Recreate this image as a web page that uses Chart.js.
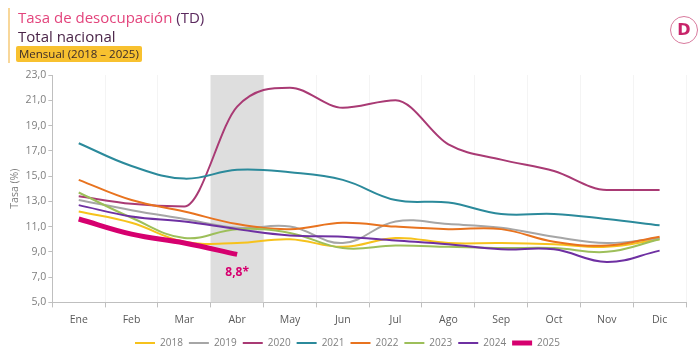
<!DOCTYPE html>
<html>
<head>
<meta charset="utf-8">
<script src="https://cdn.jsdelivr.net/npm/chart.js@4"></script>
<style>
  html, body { margin: 0; padding: 0; background: #fff; }
  #wrap { position: relative; width: 700px; height: 350px; font-family: "Open Sans", "Noto Sans", sans-serif; }
  #bar { position: absolute; left: 8px; top: 8px; width: 2px; height: 55px; background: #f8d79a; }
  #t1 { position: absolute; left: 18px; top: 7px; font-size: 15px; color: #e3447c; white-space: nowrap; }
  #t1 span { color: #5b2a5e; }
  #t2 { position: absolute; left: 18px; top: 26px; font-size: 15px; color: #4a2448; white-space: nowrap; }
  #t3 { position: absolute; left: 16px; top: 46px; font-size: 11.5px; color: #3a2a2a; background: #f8c12f; padding: 0 3px; line-height: 16px; border-radius: 2px; white-space: nowrap; }
  #logo { position: absolute; left: 670px; top: 16px; width: 26px; height: 26px; border: 1px solid #d87a9d; border-radius: 50%; text-align: center; line-height: 26px; font-weight: bold; font-size: 16px; color: #c8246a; font-family: "DejaVu Sans", sans-serif; }
  canvas { position: absolute; left: 0; top: 0; }
</style>
</head>
<body>
<div id="wrap">
  <canvas id="tdChart" width="700" height="350"></canvas>
  <div id="bar"></div>
  <div id="t1">Tasa de desocupación <span>(TD)</span></div>
  <div id="t2">Total nacional</div>
  <div id="t3">Mensual (2018 – 2025)</div>
  <div id="logo">D</div>
</div>
<script>
// Datos (TD mensual, %)
const months = ['Ene', 'Feb', 'Mar', 'Abr', 'May', 'Jun', 'Jul', 'Ago', 'Sep', 'Oct', 'Nov', 'Dic'];
const years = ['2018', '2019', '2020', '2021', '2022', '2023', '2024', '2025'];
const td2018 = [12.2, 11.3, 9.8, 9.7, 10.0, 9.4, 10.1, 9.7, 9.7, 9.6, 9.4, 10.0];
const td2019 = [13.1, 12.3, 11.6, 10.9, 11.0, 9.7, 11.4, 11.2, 10.9, 10.2, 9.7, 10.1];
const td2020 = [13.4, 12.8, 12.6, 20.5, 22.0, 20.4, 21.0, 17.5, 16.3, 15.4, 13.9, 13.9];
const td2021 = [17.6, 15.8, 14.8, 15.5, 15.3, 14.7, 13.1, 12.9, 12.0, 12.0, 11.6, 11.1];
const td2022 = [14.7, 13.1, 12.2, 11.2, 10.8, 11.3, 11.0, 10.8, 10.8, 9.8, 9.5, 10.2];
const td2023 = [13.7, 11.7, 10.1, 10.8, 10.5, 9.3, 9.5, 9.4, 9.3, 9.3, 9.0, 10.0];
const td2024 = [12.7, 11.8, 11.4, 10.8, 10.3, 10.2, 9.9, 9.6, 9.2, 9.2, 8.2, 9.1];
const td2025 = [11.6, 10.4, 9.7, 8.8];
const yTicks = [5, 7, 9, 11, 13, 15, 17, 19, 21, 23];
const highlightMonth = 'Abr';
const lastLabel = '8,8*';

const colors = ['#f6c21c', '#a6a6a6', '#a93a74', '#2b8a9b', '#e8731f', '#9dbf5a', '#6e30a2', '#d6006f'];
const series = [td2018, td2019, td2020, td2021, td2022, td2023, td2024, td2025];

const datasets = series.map((d, i) => ({
    label: years[i],
    data: d,
    borderColor: colors[i],
    backgroundColor: colors[i],
    borderWidth: i === 7 ? 5 : 2,
    pointRadius: 0,
    tension: 0.4,
    // 2020 salta en abril: sin sobrepaso antes del salto
    cubicInterpolationMode: i === 2 ? 'monotone' : 'default',
    order: 7 - i
}));

// banda gris del mes actual + etiqueta del ultimo dato
const bandPlugin = {
    id: 'band',
    beforeDatasetsDraw(chart) {
        const { ctx, chartArea, scales } = chart;
        const i = months.indexOf(highlightMonth);
        const w = scales.x.getPixelForValue(1) - scales.x.getPixelForValue(0);
        const cx = scales.x.getPixelForValue(i);
        ctx.save();
        ctx.fillStyle = '#dedede';
        ctx.fillRect(cx - w / 2, chartArea.top, w, chartArea.bottom - chartArea.top);
        ctx.restore();
    },
    afterDatasetsDraw(chart) {
        const { ctx, scales } = chart;
        const i = td2025.length - 1;
        const x = scales.x.getPixelForValue(i);
        const y = scales.y.getPixelForValue(td2025[i]);
        ctx.save();
        ctx.font = 'bold 12px "Open Sans", sans-serif';
        ctx.fillStyle = '#d6006f';
        ctx.textAlign = 'center';
        ctx.textBaseline = 'middle';
        ctx.fillText(lastLabel, x, y + 18);
        ctx.restore();
    }
};

Chart.defaults.font.family = '"Open Sans", "Noto Sans", sans-serif';

new Chart(document.getElementById('tdChart').getContext('2d'), {
    type: 'line',
    data: { labels: months, datasets: datasets },
    options: {
        responsive: false,
        animation: false,
        layout: { padding: { top: 75, left: 9, right: 14, bottom: -8 } },
        plugins: {
            legend: {
                position: 'bottom',
                labels: {
                    usePointStyle: true,
                    pointStyle: 'line',
                    pointStyleWidth: 20,
                    padding: 6,
                    color: '#7f7f7f',
                    font: { size: 10 },
                    sort: (a, b) => a.datasetIndex - b.datasetIndex
                }
            },
            tooltip: { enabled: false }
        },
        scales: {
            x: {
                offset: true,
                grid: { offset: true, color: '#f4f4f4', tickColor: '#bfbfbf', tickLength: 5 },
                border: { color: '#bfbfbf' },
                ticks: { color: '#595959', font: { size: 10.5 }, padding: 6 }
            },
            y: {
                min: 5,
                max: 23,
                afterBuildTicks: (axis) => { axis.ticks = yTicks.map(v => ({ value: v })); },
                grid: { drawOnChartArea: false, tickColor: '#bfbfbf', tickLength: 4 },
                border: { color: '#bfbfbf' },
                ticks: {
                    color: '#7f7f7f',
                    font: { size: 10.5 },
                    padding: 2,
                    callback: (v) => Number(v).toFixed(1).replace('.', ',')
                },
                title: { display: true, text: 'Tasa (%)', color: '#7f7f7f', font: { size: 10.5 }, padding: { top: 0, bottom: 2 } }
            }
        }
    },
    plugins: [bandPlugin]
});
</script>
</body>
</html>
